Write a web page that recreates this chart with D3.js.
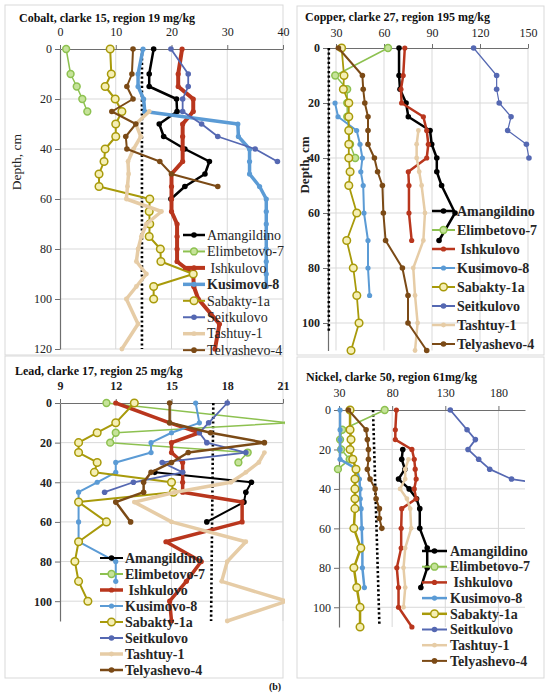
<!DOCTYPE html>
<html>
<head>
<meta charset="utf-8">
<script src="https://cdn.jsdelivr.net/npm/d3@7"></script>
<style>
  body { margin: 0; background: #fff; }
  text { font-family: "Liberation Serif", "Times New Roman", serif; }
</style>
</head>
<body>
<svg id="chart" width="550" height="694"></svg>
<script>
// series, same order in every panel
const seriesNames = ["Amangildino", "Elimbetovo-7", "\u00A0Ishkulovo", "Kusimovo-8", "Sabakty-1a", "Seitkulovo", "Tashtuy-1", "Telyashevo-4"];
const seriesColors = ["#000000", "#8DC150", "#B9361D", "#5B9BD5", "#A89A0A", "#5568B2", "#E6CCA6", "#7B4A16"];
const markerFills = ["#000000", "#C6E39A", "#B9361D", "#5B9BD5", "#F5EFB5", "#5568B2", "#E6CCA6", "#7B4A16"];
const markerRadius = [2.8, 3.4, 2.6, 2.6, 3.8, 2.8, 2.4, 2.8];

// [depth cm, mg/kg]
const cobaltData = [
  [[0,16.8],[10,16],[15,16],[20,20.9],[25,21],[30,17.8],[35,18.6],[40,22.4],[45,26.8],[50,26],[55,22.4],[60,19.9]],
  [[0,1.1],[10,1.9],[15,3],[20,4],[25,4.9]],
  [[0,21.9],[10,21.2],[15,21.2],[20,23.9],[25,23.9],[30,22],[35,22],[40,22],[45,22],[50,20],[55,20],[60,20],[65,20],[70,21],[75,21],[80,21],[85,21],[90,23.9],[95,24],[100,24.8],[110,28.6],[120,27.8]],
  [[0,14.9],[10,14],[15,14],[20,15],[25,15.2],[30,31.9],[35,32],[40,34],[45,34],[50,34],[55,35.8],[60,37],[65,37],[70,37],[75,37],[80,37],[85,37],[90,37],[95,37]],
  [[0,9],[10,9.2],[15,8.1],[20,9.9],[25,11.1],[30,10],[35,10],[40,8.1],[45,7.9],[50,7],[55,7],[60,16.1],[65,16],[70,16.1],[75,16],[80,18],[85,18.1],[90,23.9],[95,16.8],[100,16.8]],
  [[0,19.9],[10,23],[15,23],[20,22],[25,22],[30,25.4],[35,28.3],[40,35],[45,39]],
  [[25,16],[30,13.6],[35,14.5],[40,13.2],[45,12.2],[50,12.3],[55,12.1],[60,11.9],[65,18.2],[70,15.5],[75,14.6],[80,14],[85,13.7],[90,15.5],[95,13.7],[100,11.9],[110,14],[120,11.1]],
  [[0,13.1],[10,12.9],[15,12],[20,13.1],[25,9.3],[30,13.6],[35,11.8],[40,12],[45,17.9],[50,20],[55,28.3]]
];
const copperData = [
  [[0,69.4],[10,69.4],[15,70],[20,73.8],[25,75.2],[30,88.8],[35,89.8],[40,93],[45,93],[50,96],[60,104.4],[70,94.4]],
  [[0,62.5],[10,29.5],[15,37],[20,37],[25,37],[30,38],[35,38.8],[40,42]],
  [[0,73],[10,72],[15,70.6],[20,71],[25,84.6],[30,86.7],[35,87.7],[40,86.7],[45,75.2],[50,75.6],[60,75.6],[70,77.3]],
  [[20,29.4],[25,31.3],[30,42.9],[35,45],[40,46.5],[45,45.5],[50,47],[60,47.5],[70,50],[80,50],[90,51]],
  [[0,33.5],[10,35],[15,34.6],[20,38],[25,38],[30,38],[35,38],[40,38],[45,38.8],[50,38],[60,43],[70,36.7],[80,40.8],[90,43],[100,44.4],[110,39.4]],
  [[0,116],[10,130.4],[15,130.4],[20,132],[25,139.4],[30,137.3],[35,149],[40,150.6]],
  [[30,81.5],[35,80.4],[40,80.4],[45,82],[50,83.5],[60,85.6],[70,84.6],[80,78.3],[90,79.4],[100,81],[110,79.4]],
  [[0,31.5],[10,46.5],[15,47],[20,48],[25,50],[30,50],[35,50],[40,54],[45,56],[50,59],[60,59.6],[70,61],[80,71.5],[90,75],[100,75],[110,86.7]]
];
const leadData = [
  [[35,14.1],[40,19.3],[45,19],[50,18.9],[60,16.9]],
  [[0,11.5],[10,21.3],[15,12],[20,11.7],[25,19.1],[30,18.6]],
  [[0,12],[10,14.9],[15,16.5],[20,15],[25,15],[30,15.6],[35,15.6],[40,15.6],[45,15.6],[50,18.8],[60,18.8],[70,14.7],[80,16.6],[90,15.8],[100,14.9],[110,15]],
  [[0,16.3],[10,16.5],[15,15],[20,13.9],[25,13.9],[30,12],[35,12],[40,11],[45,10],[50,10],[60,10],[70,10],[80,12],[90,12]],
  [[0,13],[10,12],[15,11],[20,10],[25,10],[30,11],[35,10.85],[40,15],[45,15.1],[50,10],[60,11.5],[70,10],[80,9.8],[90,10],[100,10.5]],
  [[0,18],[10,17],[15,16.5],[20,16.9],[25,19],[30,14.5],[35,15.6],[40,12.95],[45,11.4]],
  [[25,20],[30,19.7],[35,19],[40,18.2],[45,15.2],[50,13],[60,15],[70,19],[80,18],[90,17.7],[100,21.2],[110,18]],
  [[0,14.9],[10,14.9],[15,17.1],[20,20],[25,15.9],[30,15],[35,13.9],[40,13.5],[45,13.5],[50,12],[60,12.8]]
];
const nickelData = [
  [[20,90],[25,89],[30,92],[35,86],[40,96],[45,103],[50,106],[60,106],[70,113],[80,113],[90,107]],
  [[0,73],[10,33],[15,31],[20,32],[25,40],[30,29]],
  [[0,84],[10,83],[15,83],[20,98.6],[25,100.8],[30,101.7],[35,102.6],[40,100.8],[45,102.6],[50,89],[60,88.5],[70,88.5],[80,84.4],[90,86],[100,86],[110,98.6]],
  [[0,31],[10,31],[15,31],[20,31],[25,31],[30,46.7],[35,49.2],[40,49.8],[45,50],[50,50.8],[60,51.4],[70,52],[80,52],[90,53.9]],
  [[0,40.4],[10,40.4],[15,41.3],[20,40.4],[25,43],[30,46],[35,45],[40,45],[45,45],[50,45],[60,44],[70,50.5],[80,44],[90,46.7],[100,49.8],[110,49.8]],
  [[0,134.7],[10,150.5],[15,158.3],[20,151.4],[25,161.4],[30,171.8],[35,192.3],[40,255]],
  [[25,95.4],[30,92.3],[35,92.3],[40,87.5],[45,93.9],[50,97],[60,97.9],[70,92.3],[80,90.7],[90,92.3],[100,90.7]],
  [[0,38.8],[10,55.5],[15,56.7],[20,57.7],[25,57.7],[30,56.7],[35,59.2],[40,64],[45,64.9],[50,68],[55,68],[60,70.3]]
];

// dotted clarke / region marks: [depth, value]
const cobaltRef = [[0,14.7],[120,14.7]];
const copperRef = [[0,25.5],[103,25.5]];
const leadRef = [[0,17.25],[110,17.13]];
const nickelRef = [[0,62],[109,68]];

const cobaltTicks = [0,10,20,30,40];
const copperTicks = [30,60,90,120,150];
const leadTicks = [9,12,15,18,21];
const nickelTicks = [30,80,130,180];

const svg = d3.select("#chart");

const panels = [
  { title: "Cobalt, clarke 15, region 19 mg/kg", data: cobaltData, ref: cobaltRef, xTicks: cobaltTicks,
    frame: [5,5,283,355], titleXY: [19,22], tickPad: 9,
    xDomain: [0,40], xRange: [60,283], yDomain: [0,120], yRange: [49,349], yTicks: [0,20,40,60,80,100,120],
    tickBold: false, yBold: false, clipRight: 283, depthLabel: { x: 21, y: 162, bold: false, size: 13.5 },
    widths: [2.5,1.5,4,3.5,2,1.8,3.5,2],
    legend: { x1: 183, x2: 205, tx: 207, y0: 235, dy: 16.45, bold: [false,false,false,true,false,false,false,false] } },
  { title: "Copper, clarke 27, region 195 mg/kg", data: copperData, ref: copperRef, xTicks: copperTicks,
    frame: [297,6,544,355], titleXY: [305,21], tickPad: 7,
    xDomain: [25,150], xRange: [328,528], yDomain: [0,110], yRange: [48,350.5], yTicks: [0,20,40,60,80,100],
    tickBold: false, yBold: true, clipRight: 540, depthLabel: { x: 309, y: 165, bold: true, size: 13 },
    widths: [2.5,1.5,2.5,2,1.8,1.2,2.5,2],
    legend: { x1: 432, x2: 455, tx: 457, y0: 211, dy: 19, bold: [true,true,true,true,true,true,true,true] } },
  { title: "Lead, clarke 17, region 25 mg/kg", data: leadData, ref: leadRef, xTicks: leadTicks,
    frame: [5,356,283,678], titleXY: [15,375], tickPad: 9,
    xDomain: [9,21], xRange: [60,283], yDomain: [0,110], yRange: [403,621], yTicks: [0,20,40,60,80,100],
    tickBold: true, yBold: true, clipRight: 285, depthLabel: null,
    widths: [2,1.5,3.5,2,2,1.8,3.5,2.5],
    legend: { x1: 100, x2: 123, tx: 125, y0: 558, dy: 16, bold: [true,true,true,true,true,true,true,true] } },
  { title: "Nickel, clarke 50, region 61mg/kg", data: nickelData, ref: nickelRef, xTicks: nickelTicks,
    frame: [297,357,544,678], titleXY: [306,381], tickPad: 9,
    xDomain: [30,205], xRange: [339,525], yDomain: [0,110], yRange: [410,627], yTicks: [0,20,40,60,80,100],
    tickBold: false, yBold: false, clipRight: 525, depthLabel: null,
    widths: [2.5,1.5,2.5,2.5,2.5,1.8,2.5,2],
    legend: { x1: 422, x2: 447, tx: 450, y0: 551, dy: 15.7, bold: [true,true,true,true,true,true,true,true] } }
];

panels.forEach(function (p, pi) {
  const g = svg.append("g");
  const x = d3.scaleLinear().domain(p.xDomain).range(p.xRange);
  const y = d3.scaleLinear().domain(p.yDomain).range(p.yRange);

  g.append("rect")
    .attr("x", p.frame[0]).attr("y", p.frame[1])
    .attr("width", p.frame[2] - p.frame[0]).attr("height", p.frame[3] - p.frame[1])
    .attr("fill", "#fff").attr("stroke", "#D9D9D9").attr("stroke-width", 1);

  // grid
  g.selectAll(".vg").data(p.xTicks.filter(t => x(t) > p.xRange[0] + 1)).join("line")
    .attr("x1", d => x(d)).attr("x2", d => x(d))
    .attr("y1", p.yRange[0]).attr("y2", p.yRange[1])
    .attr("stroke", "#D9D9D9").attr("stroke-width", 1);
  g.selectAll(".hg").data(p.yTicks.filter(t => t > 0)).join("line")
    .attr("x1", p.xRange[0]).attr("x2", p.xRange[1])
    .attr("y1", d => y(d)).attr("y2", d => y(d))
    .attr("stroke", "#D9D9D9").attr("stroke-width", 1);

  // axes
  const xa = g.append("g").attr("transform", "translate(0," + p.yRange[0] + ")")
    .call(d3.axisTop(x).tickValues(p.xTicks).tickSize(4).tickSizeOuter(0).tickPadding(p.tickPad));
  const ya = g.append("g").attr("transform", "translate(" + p.xRange[0] + ",0)")
    .call(d3.axisLeft(y).tickValues(p.yTicks).tickSize(5).tickSizeOuter(0).tickPadding(3));
  [xa, ya].forEach(function (a, i) {
    a.select(".domain").attr("stroke", "#6E6E6E").attr("stroke-width", 1.2);
    a.selectAll(".tick line").attr("stroke", "#6E6E6E");
    a.selectAll("text")
      .attr("fill", "#222")
      .style("font-family", "'Liberation Serif', serif")
      .style("font-size", "12px")
      .style("font-weight", (i === 0 ? p.tickBold : p.yBold) ? "bold" : "normal");
  });

  // clip for data
  const clipId = "clip" + pi;
  g.append("clipPath").attr("id", clipId).append("rect")
    .attr("x", p.xRange[0] - 40).attr("y", p.frame[1])
    .attr("width", p.clipRight - p.xRange[0] + 40).attr("height", p.frame[3] - p.frame[1]);

  const plot = g.append("g").attr("clip-path", "url(#" + clipId + ")");

  // dotted reference line
  plot.append("path")
    .datum(p.ref)
    .attr("d", d3.line().x(d => x(d[1])).y(d => y(d[0])))
    .attr("fill", "none").attr("stroke", "#000").attr("stroke-width", 2.6)
    .attr("stroke-dasharray", "2.2,2.4");

  const line = d3.line().x(d => x(d[1])).y(d => y(d[0]));

  p.data.forEach(function (pts, si) {
    const sg = plot.append("g");
    sg.append("path").datum(pts)
      .attr("d", line)
      .attr("fill", "none")
      .attr("stroke", seriesColors[si])
      .attr("stroke-width", p.widths[si])
      .attr("stroke-linejoin", "round");
    const open = si === 1 || si === 4;
    sg.selectAll("circle").data(pts).join("circle")
      .attr("cx", d => x(d[1])).attr("cy", d => y(d[0]))
      .attr("r", markerRadius[si])
      .attr("fill", markerFills[si])
      .attr("stroke", open ? seriesColors[si] : "none")
      .attr("stroke-width", open ? 1.5 : 0);
  });

  // legend
  const L = p.legend;
  seriesNames.forEach(function (name, si) {
    const ly = L.y0 + si * L.dy;
    const lg = g.append("g");
    lg.append("line")
      .attr("x1", L.x1).attr("x2", L.x2).attr("y1", ly).attr("y2", ly)
      .attr("stroke", seriesColors[si]).attr("stroke-width", Math.max(2, p.widths[si]));
    const open = si === 1 || si === 4;
    lg.append("circle")
      .attr("cx", (L.x1 + L.x2) / 2).attr("cy", ly).attr("r", markerRadius[si])
      .attr("fill", markerFills[si])
      .attr("stroke", open ? seriesColors[si] : "none").attr("stroke-width", open ? 1.5 : 0);
    lg.append("text")
      .attr("x", L.tx).attr("y", ly).attr("dy", "0.34em")
      .attr("fill", "#262626")
      .style("font-size", "14px")
      .style("font-weight", L.bold[si] ? "bold" : "normal")
      .text(name);
  });

  // title
  g.append("text")
    .attr("x", p.titleXY[0]).attr("y", p.titleXY[1])
    .style("font-size", "12px").style("font-weight", "bold").attr("fill", "#111")
    .text(p.title);

  if (p.depthLabel) {
    g.append("text")
      .attr("transform", "translate(" + p.depthLabel.x + "," + p.depthLabel.y + ") rotate(-90)")
      .attr("text-anchor", "middle")
      .style("font-size", p.depthLabel.size + "px")
      .style("font-weight", p.depthLabel.bold ? "bold" : "normal")
      .attr("fill", "#222")
      .text("Depth, cm");
  }
});

svg.append("text")
  .attr("x", 275).attr("y", 690).attr("text-anchor", "middle")
  .style("font-size", "10px").style("font-weight", "bold").attr("fill", "#111")
  .text("(b)");
</script>
</body>
</html>
